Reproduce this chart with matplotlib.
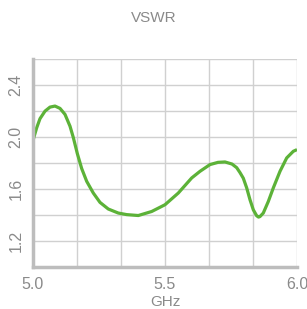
import matplotlib
matplotlib.use("Agg")
import matplotlib.pyplot as plt

freq_ghz = [5.001, 5.014, 5.0265, 5.0455, 5.0644, 5.0833, 5.1023, 5.1212, 5.1402, 5.1527,
            5.1678, 5.1845, 5.2034, 5.2284, 5.2538, 5.2852, 5.3231, 5.3549, 5.3989, 5.4496,
            5.500, 5.5504, 5.6011, 5.6326, 5.6705, 5.7008, 5.7273, 5.7538, 5.7716, 5.7841,
            5.7966, 5.8095, 5.8220, 5.8345, 5.8473, 5.8542, 5.8598, 5.8723, 5.8913, 5.9102,
            5.9356, 5.9610, 5.9860, 6.000]
vswr = [1.981, 2.071, 2.141, 2.199, 2.230, 2.238, 2.220, 2.174, 2.083, 1.996,
        1.873, 1.757, 1.659, 1.569, 1.497, 1.446, 1.415, 1.403, 1.396, 1.427,
        1.479, 1.569, 1.685, 1.736, 1.788, 1.805, 1.808, 1.792, 1.764, 1.726,
        1.683, 1.608, 1.517, 1.440, 1.394, 1.384, 1.388, 1.415, 1.504, 1.608,
        1.736, 1.839, 1.890, 1.903]
x_ticks = [5.0, 5.5, 6.0]
x_tick_labels = ["5.0", "5.5", "6.0"]
y_ticks = [1.2, 1.6, 2.0, 2.4]
y_tick_labels = ["1.2", "1.6", "2.0", "2.4"]
x_grid = [5.0 + i / 6 for i in range(7)]
y_grid = [1.0 + 0.2 * i for i in range(9)]

plt.rcParams['font.family'] = ['Liberation Sans', 'DejaVu Sans']
fig = plt.figure(figsize=(3.07, 3.09), dpi=100)
ax = fig.add_axes([33 / 307, 42 / 309, 264 / 307, 208 / 309])

grid_color = '#d0d0d0'
text_color = '#8a8a8a'
for gx in x_grid:
    ax.axvline(gx, color=grid_color, lw=1.0, zorder=1)
for gy in y_grid:
    ax.axhline(gy, color=grid_color, lw=1.0, zorder=1)

ax.plot(freq_ghz, vswr, color='#5cb238', lw=2.3, solid_joinstyle='round',
        solid_capstyle='butt', zorder=3)

ax.set_xlim(5.0, 6.0)
ax.set_ylim(1.0, 2.6)
ax.set_xticks(x_ticks)
ax.set_xticklabels(x_tick_labels)
ax.set_yticks(y_ticks)
ax.set_yticklabels(y_tick_labels, rotation=90, va='center')
ax.tick_params(length=0, colors=text_color, labelsize=11.5, pad=7)
for s in ['top', 'right']:
    ax.spines[s].set_visible(False)
for s in ['left', 'bottom']:
    ax.spines[s].set_color('#bdbdbd')
    ax.spines[s].set_linewidth(2.5)
    ax.spines[s].set_zorder(4)
ax.set_xlabel('GHz', color=text_color, fontsize=11, labelpad=2)
fig.text(0.5, 1 - 18 / 309, 'VSWR', ha='center', va='center', color=text_color, fontsize=11)

fig.savefig('out.png', dpi=100)
